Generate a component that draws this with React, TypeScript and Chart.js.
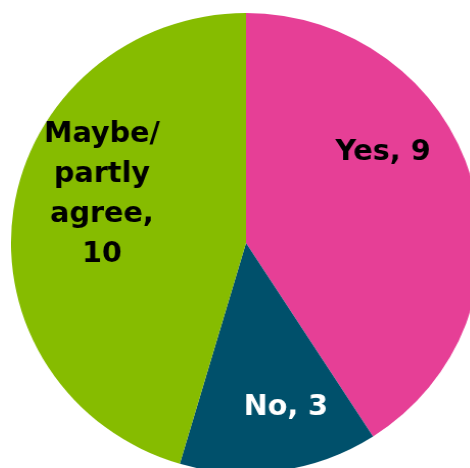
import React, { useEffect, useRef } from "react";
import { Chart, registerables } from "chart.js";

Chart.register(...registerables);

const categories = ["Yes", "No", "Maybe/partly agree"];
const values = [9, 3, 10];
const sliceColors = ["#E63F96", "#00506B", "#86BC00"];
const labelLines = [["Yes, 9"], ["No, 3"], ["Maybe/", "partly", "agree,", "10"]];
const labelColors = ["#000000", "#FFFFFF", "#000000"];

// label anchor offsets (px) from pie center: [dx, first baseline dy]
const labelOffsets: [number, number][] = [
  [134, -83],
  [39, 172],
  [-141, -101],
];
const LINE_GAP = 40;

const labelPlugin = {
  id: "sliceLabels",
  afterDatasetsDraw(chart: any) {
    const meta = chart.getDatasetMeta(0);
    const ctx = chart.ctx;
    ctx.save();
    ctx.font = "bold 28px 'DejaVu Sans'";
    ctx.textAlign = "center";
    ctx.textBaseline = "alphabetic";
    meta.data.forEach((arc: any, i: number) => {
      const [dx, dy] = labelOffsets[i];
      ctx.fillStyle = labelColors[i];
      labelLines[i].forEach((line, j) => {
        ctx.fillText(line, arc.x + dx, arc.y + dy + j * LINE_GAP);
      });
    });
    ctx.restore();
  },
};

export default function App() {
  const ref = useRef<HTMLCanvasElement>(null);
  useEffect(() => {
    if (!ref.current) return;
    const chart = new Chart(ref.current, {
      type: "pie",
      data: {
        labels: categories,
        datasets: [
          {
            data: values,
            backgroundColor: sliceColors,
            borderWidth: 0,
          },
        ],
      },
      options: {
        responsive: false,
        animation: false,
        layout: { padding: 0 },
        plugins: {
          legend: { display: false },
          tooltip: { enabled: false },
        },
      },
      plugins: [labelPlugin],
    });
    return () => chart.destroy();
  }, []);
  return (
    <div
      style={{
        position: "fixed",
        left: 0,
        top: 0,
        width: 470,
        height: 468,
        overflow: "hidden",
        background: "#fff",
      }}
    >
      <canvas
        ref={ref}
        width={460}
        height={460}
        style={{
          position: "absolute",
          left: 16,
          top: 13,
          width: 460,
          height: 460,
          transform: "scaleX(1.0217)",
          transformOrigin: "50% 50%",
        }}
      />
    </div>
  );
}
